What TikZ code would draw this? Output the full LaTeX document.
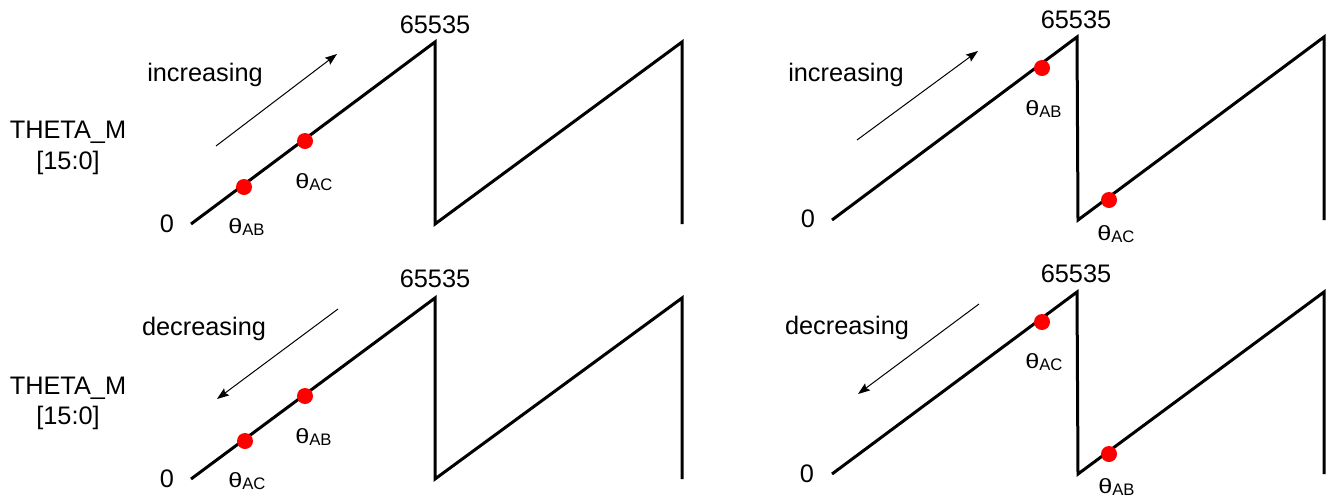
\documentclass[tikz,border=0pt]{standalone}
\usepackage{graphicx}
\usepackage{fontspec}
\setmainfont{Liberation Sans}
\usetikzlibrary{arrows.meta}
\newcommand\thlab[1]{{\fontsize{15.5}{15.5}\selectfont\scalebox{1.22}[1]{θ}}\raisebox{-1.5pt}{\fontsize{12.5}{12.5}\selectfont #1}}
\tikzset{
  saw/.style={line width=2.25pt, line join=miter},
  dot/.style={circle, fill=red, inner sep=0pt, minimum size=12pt},
  dirarrow/.style={line width=0.75pt, -{Stealth[length=9pt,width=6.5pt,inset=1.5pt]}},
  txt/.style={font=\fontsize{19}{22}\selectfont, inner sep=0pt, anchor=base},
  thl/.style={inner sep=0pt, anchor=base west},
}
\begin{document}
\begin{tikzpicture}[x=0.75pt,y=-0.75pt]
\useasboundingbox (0,0) rectangle (1328,497);

% ---------- top-left ----------
\coordinate (tls) at (191,224); \coordinate (tlp1) at (435,42); \coordinate (tlb1) at (435,224);
\coordinate (tlp2) at (682,42); \coordinate (tlb2) at (682,224);
\draw[saw] (tls) -- (tlp1) -- (tlb1) -- (tlp2) -- (tlb2);
\node[dot] (tlab) at (244,187) {};
\node[dot] (tlac) at (305,141) {};
\node[thl] (tlabl) at (228,233) {\thlab{AB}};
\node[thl] (tlacl) at (295,188) {\thlab{AC}};
\coordinate (tla1) at (216,146); \coordinate (tla2) at (337,54);
\draw[dirarrow] (tla1) -- (tla2);
\node[txt] (tlinc) at (205,81) {increasing};
\node[txt] (tlth) at (68,138) {THETA\_M};
\node[txt] (tlbits) at (68,169) {[15:0]};
\node[txt] (tlzero) at (167,232) {0};
\node[txt] (tlmax) at (435,33) {65535};

% ---------- top-right ----------
\coordinate (trs) at (832,220); \coordinate (trp1) at (1077,37); \coordinate (trb1) at (1078,220);
\coordinate (trp2) at (1324,37); \coordinate (trb2) at (1324,220);
\draw[saw] (trs) -- (trp1) -- (trb1) -- (trp2) -- (trb2);
\node[dot] (trab) at (1042,68) {};
\node[dot] (trac) at (1109,200) {};
\node[thl] (trabl) at (1025,115) {\thlab{AB}};
\node[thl] (tracl) at (1097,240) {\thlab{AC}};
\coordinate (tra1) at (857,140); \coordinate (tra2) at (978,51);
\draw[dirarrow] (tra1) -- (tra2);
\node[txt] (trinc) at (846,81) {increasing};
\node[txt] (trzero) at (808,227) {0};
\node[txt] (trmax) at (1076,28) {65535};

% ---------- bottom-left ----------
\coordinate (bls) at (191,479); \coordinate (blp1) at (435,298); \coordinate (blb1) at (435,479);
\coordinate (blp2) at (682,298); \coordinate (blb2) at (682,479);
\draw[saw] (bls) -- (blp1) -- (blb1) -- (blp2) -- (blb2);
\node[dot] (blac) at (245,441) {};
\node[dot] (blab) at (305,396) {};
\node[thl] (blacl) at (228,487) {\thlab{AC}};
\node[thl] (blabl) at (295,443) {\thlab{AB}};
\coordinate (bla1) at (338,309); \coordinate (bla2) at (217,399);
\draw[dirarrow] (bla1) -- (bla2);
\node[txt] (bldec) at (204,335) {decreasing};
\node[txt] (blth) at (68,394) {THETA\_M};
\node[txt] (blbits) at (68,424) {[15:0]};
\node[txt] (blzero) at (167,487) {0};
\node[txt] (blmax) at (435,287) {65535};

% ---------- bottom-right ----------
\coordinate (brs) at (832,474); \coordinate (brp1) at (1077,292); \coordinate (brb1) at (1078,474);
\coordinate (brp2) at (1324,292); \coordinate (brb2) at (1324,474);
\draw[saw] (brs) -- (brp1) -- (brb1) -- (brp2) -- (brb2);
\node[dot] (brac) at (1042,322) {};
\node[dot] (brab) at (1109,454) {};
\node[thl] (bracl) at (1025,368) {\thlab{AC}};
\node[thl] (brabl) at (1098,493) {\thlab{AB}};
\coordinate (bra1) at (979,304); \coordinate (bra2) at (858,394);
\draw[dirarrow] (bra1) -- (bra2);
\node[txt] (brdec) at (847,334) {decreasing};
\node[txt] (brzero) at (807,482) {0};
\node[txt] (brmax) at (1076,282) {65535};
\end{tikzpicture}
\end{document}
